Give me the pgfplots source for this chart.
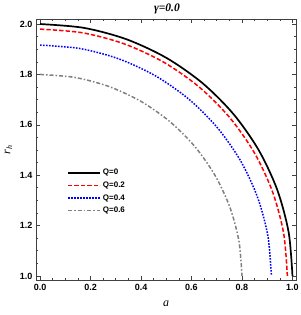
\documentclass[border=0pt]{standalone}
\usepackage{pgfplots}
\pgfplotsset{compat=1.18}
\usepackage{fontspec}
\setmainfont{Liberation Sans}
\newfontfamily\serif{Liberation Serif}
\begin{document}
\begin{tikzpicture}
\begin{axis}[
  scale only axis, width=260pt, height=261pt,
  xmin=-0.016, xmax=1.014, ymin=0.984, ymax=2.02,
  xtick={0,0.2,0.4,0.6,0.8,1.0}, ytick={1.0,1.2,1.4,1.6,1.8,2.0},
  minor tick num=3,
  tick align=inside,
  major tick length=4pt, minor tick length=2.2pt,
  axis line style={black!75, line width=0.8pt},
  every tick/.style={black!75, line width=0.6pt},
  /pgf/number format/assume math mode=true,
  /pgf/number format/.cd, fixed, fixed zerofill, precision=1, /pgfplots/.cd,
  tick label style={font=\bfseries\fontsize{9}{9}\selectfont},
  xticklabel style={yshift=-1pt},
  title={\serif\bfseries\itshape γ=0.0},
  title style={font=\fontsize{11.5}{11.5}\selectfont, yshift=-4pt, xshift=1pt},
  xlabel={\serif\itshape a},
  ylabel={\serif\itshape r\textsubscript{h}},
  label style={font=\fontsize{12}{12}\selectfont},
  xlabel style={yshift=-3pt},
  ylabel style={yshift=1pt},
  legend style={draw=none, fill=none, at={(axis cs:0.095,1.44)}, anchor=north west,
    font=\bfseries\fontsize{8}{8.5}\selectfont, row sep=1.5pt},
  legend cell align=left,
  legend image code/.code={\draw[#1] (0pt,0pt) -- (32pt,0pt);},
]
\addplot[black, line width=1.7pt, smooth] coordinates {
(0,2) (0.173648,1.984808) (0.342020,1.939693) (0.5,1.866025) (0.642788,1.766044)
(0.766044,1.642788) (0.866025,1.5) (0.939693,1.342020) (0.984808,1.173648) (1,1)};
\addlegendentry{Q=0}
\addplot[red, line width=1.5pt, smooth, dash pattern=on 4.3pt off 2.1pt] coordinates {
(0,1.979796) (0.170140,1.964911) (0.335110,1.920707) (0.489898,1.848528) (0.629801,1.750567)
(0.750567,1.629801) (0.848528,1.489898) (0.920707,1.335110) (0.964911,1.170140) (0.979796,1)};
\addlegendentry{Q=0.2}
\addplot[blue, line width=1.5pt, smooth, dash pattern=on 1.6pt off 1.4pt] coordinates {
(0,1.916515) (0.159151,1.902591) (0.313467,1.861243) (0.458258,1.793725) (0.589125,1.702091)
(0.702091,1.589125) (0.793725,1.458258) (0.861243,1.313467) (0.902591,1.159151) (0.916515,1)};
\addlegendentry{Q=0.4}
\addplot[gray, line width=1.5pt, smooth, dash pattern=on 4pt off 2pt on 1.5pt off 2pt] coordinates {
(0,1.8) (0.138918,1.787846) (0.273616,1.751754) (0.4,1.692820) (0.514230,1.612835)
(0.612835,1.514230) (0.692820,1.4) (0.751754,1.273616) (0.787846,1.138918) (0.8,1)};
\addlegendentry{Q=0.6}
\end{axis}
\pgfresetboundingbox
\path (-36pt,-35pt) rectangle (264pt,280pt);
\end{tikzpicture}
\end{document}
